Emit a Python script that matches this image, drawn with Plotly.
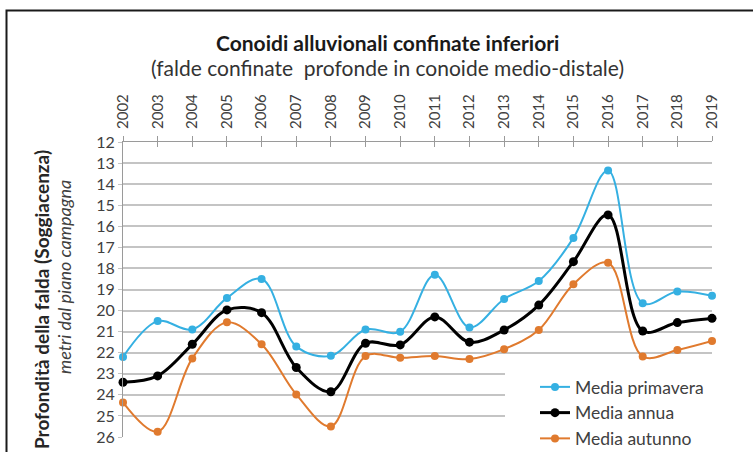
import plotly.graph_objects as go

years = list(range(2002, 2020))
primavera = [22.2, 20.5, 20.9, 19.4, 18.5, 21.7, 22.15, 20.9, 21.0, 18.3, 20.8, 19.45, 18.6, 16.55, 13.35, 19.65, 19.1, 19.3]
annua = [23.4, 23.1, 21.6, 19.97, 20.1, 22.7, 23.85, 21.55, 21.63, 20.3, 21.5, 20.92, 19.74, 17.68, 15.46, 20.97, 20.57, 20.37]
autunno = [24.36, 25.75, 22.27, 20.56, 21.6, 23.98, 25.5, 22.16, 22.24, 22.16, 22.3, 21.83, 20.92, 18.75, 17.73, 22.18, 21.87, 21.44]
y_ticks = list(range(12, 27))

FONT = "Lato, 'Open Sans', sans-serif"
W, H = 753, 452
L, R, T, B = 123, 41, 142, 15
pw, ph = W - L - R, H - T - B

def px(x):
    return (x - L) / pw

def py(y):
    return (H - B - y) / ph

def dx(x):
    return years[0] + px(x) * (years[-1] - years[0])

def dy(y):
    return y_ticks[0] + (y - T) / ph * (y_ticks[-1] - y_ticks[0])

fig = go.Figure()
series = [
    ("Media primavera", primavera, "#35b0e2", 2, 8),
    ("Media annua", annua, "#000000", 3, 9),
    ("Media autunno", autunno, "#e07a2e", 2, 8),
]
for name, vals, col, lw, ms in series:
    fig.add_trace(go.Scatter(
        x=years, y=vals, name=name, mode="lines+markers",
        line=dict(color=col, width=lw, shape="spline", smoothing=1),
        marker=dict(color=col, size=ms), cliponaxis=False,
    ))

# invisible trace for overlay axis giving inside ticks (crossing tick marks)
fig.add_trace(go.Scatter(x=[years[0]], y=[y_ticks[0]], xaxis="x2", mode="markers",
                         marker=dict(opacity=0), showlegend=False, hoverinfo="skip"))

fig.update_layout(
    width=W, height=H,
    margin=dict(l=L, r=R, t=T, b=B, autoexpand=False),
    paper_bgcolor="white", plot_bgcolor="white",
    font=dict(family=FONT, color="#404040"),
    showlegend=True,
    legend=dict(x=px(535), y=py(369), xanchor="left", yanchor="top",
                bgcolor="rgba(255,255,255,0)", font=dict(size=17.5, color="#404040"),
                tracegroupgap=0, itemwidth=30),
    xaxis=dict(range=[years[0], years[-1]], side="top", tickmode="array", tickvals=years,
               ticktext=[str(y) for y in years], tickangle=-90,
               tickfont=dict(size=15, color="#404040"), ticklabelstandoff=4,
               showgrid=False, zeroline=False, showline=True, linecolor="#9a9a9a", linewidth=1,
               ticks="outside", ticklen=5, tickcolor="#9a9a9a"),
    xaxis2=dict(range=[years[0], years[-1]], overlaying="x", side="top", tickmode="array",
                tickvals=years, showticklabels=False, showgrid=False, zeroline=False,
                ticks="inside", ticklen=5, tickcolor="#9a9a9a", showline=False),
    yaxis=dict(range=[y_ticks[-1], y_ticks[0]], tickmode="array", tickvals=y_ticks,
               tickfont=dict(size=16, color="#404040"),
               showgrid=True, gridcolor="#c4c4c4", gridwidth=2, zeroline=False,
               showline=True, linecolor="#9a9a9a", linewidth=1,
               ticks="outside", ticklen=4, tickcolor="#c4c4c4"),
    shapes=[
        dict(type="rect", xref="x", yref="y", layer="between",
             x0=dx(505), x1=dx(760), y0=dy(362), y1=dy(460),
             fillcolor="white", line=dict(width=0)),
        dict(type="rect", xref="paper", yref="paper",
             x0=px(6.5), x1=px(800), y0=py(500), y1=py(10.5),
             line=dict(color="#1a1a1a", width=2), layer="above"),
    ],
    annotations=[
        dict(text="<b>Conoidi alluvionali confinate inferiori</b>", xref="paper", yref="paper",
             x=px(387), y=py(42), xanchor="center", yanchor="middle", showarrow=False,
             font=dict(size=21, color="#1a1a1a")),
        dict(text="(falde confinate  profonde in conoide medio-distale)", xref="paper", yref="paper",
             x=px(387), y=py(68), xanchor="center", yanchor="middle", showarrow=False,
             font=dict(size=21, color="#333333")),
        dict(text="<b>Profondità della falda (Soggiacenza)</b>", xref="paper", yref="paper",
             x=px(41), y=py(300), xanchor="center", yanchor="middle", textangle=-90,
             showarrow=False, font=dict(size=19, color="#262626")),
        dict(text="<i>metri dal piano campagna</i>", xref="paper", yref="paper",
             x=px(64), y=py(277), xanchor="center", yanchor="middle", textangle=-90,
             showarrow=False, font=dict(size=18, color="#404040")),
    ],
)

fig.write_html("out.html", config={"displayModeBar": False},
               post_script="document.body.style.margin='0';document.body.style.padding='0';")
